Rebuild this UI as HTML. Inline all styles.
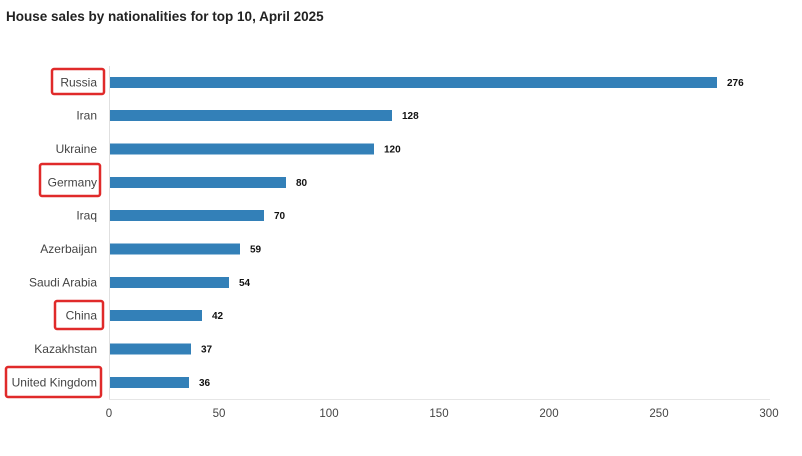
<!DOCTYPE html>
<html><head><meta charset="utf-8"><style>
body{margin:0;background:#fff;width:802px;height:451px;overflow:hidden}
</style></head><body>
<svg width="802" height="451" xmlns="http://www.w3.org/2000/svg" font-family="Liberation Sans, sans-serif">
<text x="6" y="21" font-size="13.5" font-weight="bold" fill="#222">House sales by nationalities for top 10, April 2025</text>
<line x1="109.5" y1="66" x2="109.5" y2="399" stroke="#e0e0e0"/>
<line x1="109" y1="399.5" x2="770" y2="399.5" stroke="#e6e6e6"/>
<g font-size="11.5" fill="#444" text-anchor="middle">
<text x="109" y="417">0</text><text x="219" y="417">50</text><text x="329" y="417">100</text><text x="439" y="417">150</text><text x="549" y="417">200</text><text x="659" y="417">250</text><text x="769" y="417">300</text>
</g>
<g fill="#3380b8">
<rect x="110" y="77" width="607" height="11"/>
<rect x="110" y="110" width="282" height="11"/>
<rect x="110" y="143.5" width="264" height="11"/>
<rect x="110" y="177" width="176" height="11"/>
<rect x="110" y="210" width="154" height="11"/>
<rect x="110" y="243.5" width="130" height="11"/>
<rect x="110" y="277" width="119" height="11"/>
<rect x="110" y="310" width="92" height="11"/>
<rect x="110" y="343.5" width="81" height="11"/>
<rect x="110" y="377" width="79" height="11"/>
</g>
<g font-size="10" font-weight="bold" fill="#111">
<text x="727" y="86">276</text><text x="402" y="119">128</text><text x="384" y="152.5">120</text><text x="296" y="186">80</text><text x="274" y="219">70</text><text x="250" y="252.5">59</text><text x="239" y="286">54</text><text x="212" y="319">42</text><text x="201" y="352.5">37</text><text x="199" y="386">36</text>
</g>
<g font-size="12" fill="#444" text-anchor="end">
<text x="97" y="86.5">Russia</text><text x="97" y="119.5">Iran</text><text x="97" y="153">Ukraine</text><text x="97" y="186.5">Germany</text><text x="97" y="219.5">Iraq</text><text x="97" y="253">Azerbaijan</text><text x="97" y="286.5">Saudi Arabia</text><text x="97" y="319.5">China</text><text x="97" y="353">Kazakhstan</text><text x="97" y="386.5">United Kingdom</text>
</g>
<g fill="none" stroke="#e02a2a" stroke-width="2.5">
<rect x="52" y="69" width="52" height="25" rx="2"/>
<rect x="40" y="164" width="60" height="32" rx="2"/>
<rect x="55" y="301" width="48" height="28" rx="2"/>
<rect x="6" y="367" width="95" height="30" rx="2"/>
</g>
</svg>
</body></html>
